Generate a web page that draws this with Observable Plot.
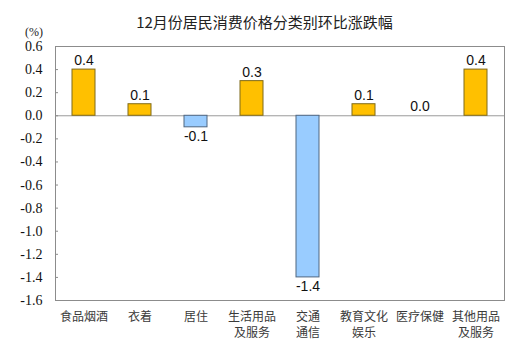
<!DOCTYPE html>
<html>
<head>
<meta charset="utf-8">
<script src="https://cdn.jsdelivr.net/npm/d3@7"></script>
<script src="https://cdn.jsdelivr.net/npm/@observablehq/plot@0.6"></script>
<style>
  html, body { margin: 0; padding: 0; background: #fff; }
  #wrap { position: relative; width: 529px; height: 361px; }
  #head { position: relative; width: 529px; height: 36px; }
  #title { position: absolute; left: 0; width: 529px; top: 12px; text-align: center;
           font: 15px "Noto Sans CJK SC", sans-serif; color: #222; line-height: 20px; }
  #unit { position: absolute; left: 25px; top: 25px; font: 12px "Liberation Serif", serif; color: #222; line-height: 14px; }
</style>
</head>
<body>
<div id="wrap">
  <div id="head">
    <div id="title">12月份居民消费价格分类别环比涨跌幅</div>
    <div id="unit">(%)</div>
  </div>
  <div id="chart"></div>
</div>
<script>
const categories = ["食品烟酒", "衣着", "居住", "生活用品\n及服务", "交通\n通信", "教育文化\n娱乐", "医疗保健", "其他用品\n及服务"];
const values = [0.4, 0.1, -0.1, 0.3, -1.4, 0.1, 0.0, 0.4];
const yTicks = [0.6, 0.4, 0.2, 0.0, -0.2, -0.4, -0.6, -0.8, -1.0, -1.2, -1.4, -1.6];

const data = categories.map((c, i) => ({category: c, value: values[i]}));

const labelStyle = {
  x: "category", y: "value",
  text: d => d.value.toFixed(1),
  lineAnchor: "middle",
  fontSize: 14,
  fontFamily: "Liberation Sans, Arial, sans-serif",
  fill: "#111"
};

const chart = Plot.plot({
  width: 529,
  height: 325,
  marginLeft: 55,
  marginRight: 25,
  marginTop: 10,
  marginBottom: 61,
  style: {background: "#fff", fontFamily: "'Liberation Serif', serif"},
  x: {domain: categories, paddingInner: 0.59, paddingOuter: 0.295, align: 0.5},
  y: {domain: [-1.6, 0.6]},
  marks: [
    Plot.frame({stroke: "#8c8c8c", strokeWidth: 1}),
    Plot.ruleY([0], {stroke: "#9a9a9a", strokeWidth: 1}),
    Plot.barY(data, {
      x: "category", y: "value",
      fill: d => d.value >= 0 ? "#FFC000" : "#99CCFF",
      stroke: d => d.value >= 0 ? "#7f6a1a" : "#4f6680",
      strokeWidth: 1
    }),
    Plot.text(data, {...labelStyle, filter: d => d.value >= 0, dy: -9}),
    Plot.text(data, {...labelStyle, filter: d => d.value < 0, dy: 9}),
    Plot.axisY({
      ticks: yTicks,
      tickFormat: d => d.toFixed(1),
      tickSize: 0,
      tickPadding: 13,
      fontSize: 14,
      fontFamily: "'Liberation Serif', serif",
      fill: "#111",
      label: null
    }),
    Plot.axisY({
      ticks: yTicks,
      tickSize: -3,
      text: null,
      stroke: "#8c8c8c",
      label: null
    }),
    Plot.axisX({
      tickSize: 0,
      tickPadding: 9,
      fontSize: 12,
      lineHeight: 1.35,
      fontFamily: "'Noto Sans CJK SC', sans-serif",
      fill: "#3a3a3a",
      label: null
    })
  ]
});
document.getElementById("chart").appendChild(chart);
</script>
</body>
</html>
